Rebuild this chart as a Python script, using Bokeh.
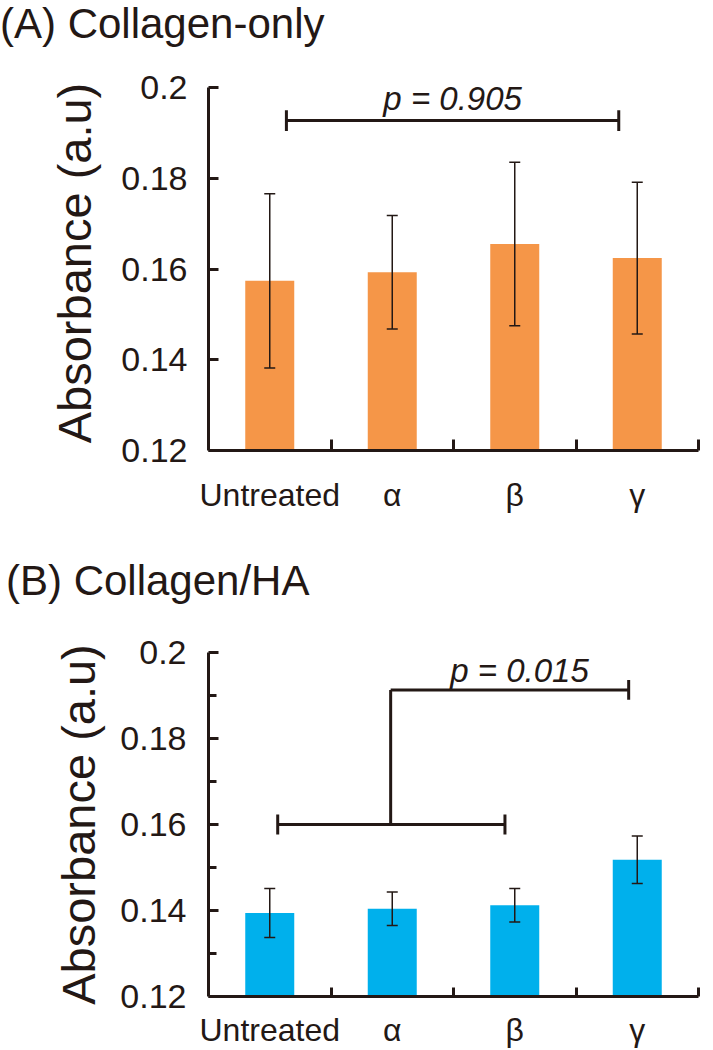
from bokeh.plotting import figure
from bokeh.models import (ColumnDataSource, Whisker, TeeHead, Range1d, FixedTicker,
                          Label, NumeralTickFormatter, Div)
from bokeh.layouts import column
from bokeh.embed import file_html
from bokeh.resources import INLINE

# ---------------- data ----------------
categories = ["Untreated", "α", "β", "γ"]
a_means = [0.1574, 0.1593, 0.1655, 0.1624]
a_errors = [0.0192, 0.0125, 0.0180, 0.0167]
b_means = [0.1394, 0.1404, 0.1412, 0.1518]
b_errors = [0.0057, 0.0039, 0.0039, 0.0055]
y_ticks = [0.12, 0.14, 0.16, 0.18, 0.2]
b_minor_ticks = [0.13, 0.15, 0.17, 0.19]
a_title = "(A) Collagen-only"
b_title = "(B) Collagen/HA"
y_label = "Absorbance (a.u)"
a_p_text = "p = 0.905"
b_p_text = "p = 0.015"

FONT = "Liberation Sans"
INK = "#231815"
ORANGE = "#F59648"
BLUE = "#00B0EC"
Y_MIN, Y_MAX = 0.12, 0.2


def make_panel(means, errors, color, height, borders, y_top, minor_y, x_standoff,
               y_standoff, ylab_standoff, xtick_len):
    left, right, top, bottom = borders
    p = figure(width=713, height=height, output_backend="svg", toolbar_location=None,
               x_range=Range1d(-0.5, len(categories) - 0.5), y_range=Range1d(Y_MIN, y_top),
               min_border_left=left, min_border_right=right,
               min_border_top=top, min_border_bottom=bottom)
    p.outline_line_color = None
    p.grid.visible = False
    p.background_fill_color = "white"
    p.border_fill_color = "white"

    idx = list(range(len(categories)))
    src = ColumnDataSource(dict(
        x=idx, top=means,
        upper=[m + e for m, e in zip(means, errors)],
        lower=[m - e for m, e in zip(means, errors)],
    ))
    p.vbar(x="x", top="top", bottom=Y_MIN, width=0.4, source=src,
           fill_color=color, line_color=None)
    w = Whisker(base="x", upper="upper", lower="lower", source=src,
                line_color=INK, line_width=1.5, level="overlay",
                upper_head=TeeHead(size=11, line_color=INK, line_width=1.5),
                lower_head=TeeHead(size=11, line_color=INK, line_width=1.5))
    p.add_layout(w)

    # x axis
    xa = p.xaxis[0]
    xa.ticker = FixedTicker(ticks=idx, minor_ticks=[i + 0.5 for i in idx])
    xa.major_label_overrides = {i: c for i, c in zip(idx, categories)}
    xa.major_tick_line_color = None
    xa.minor_tick_in = xtick_len
    xa.minor_tick_out = 0
    xa.minor_tick_line_width = 3
    xa.minor_tick_line_color = INK
    xa.axis_line_width = 3
    xa.axis_line_color = INK
    xa.major_label_text_font = FONT
    xa.major_label_text_font_size = "32px"
    xa.major_label_text_color = INK
    xa.major_label_standoff = x_standoff

    # y axis
    ya = p.yaxis[0]
    ya.bounds = (Y_MIN, Y_MAX)
    ya.ticker = FixedTicker(ticks=y_ticks, minor_ticks=minor_y)
    ya.formatter = NumeralTickFormatter(format="0.[00]")
    ya.major_tick_in = 10
    ya.major_tick_out = 0
    ya.minor_tick_in = 8 if minor_y else 0
    ya.minor_tick_out = 0
    ya.major_tick_line_width = 3
    ya.minor_tick_line_width = 3
    ya.major_tick_line_color = INK
    ya.minor_tick_line_color = INK
    ya.axis_line_width = 3
    ya.axis_line_color = INK
    ya.major_label_text_font = FONT
    ya.major_label_text_font_size = "34px"
    ya.major_label_text_color = INK
    ya.major_label_standoff = y_standoff
    ya.axis_label = y_label
    ya.axis_label_text_font = FONT
    ya.axis_label_text_font_size = "47px"
    ya.axis_label_text_font_style = "normal"
    ya.axis_label_text_color = INK
    ya.axis_label_standoff = ylab_standoff
    return p


def title_div(text, height, pad_top, pad_left):
    html = ('<div style="font-family: \'Liberation Sans\'; font-size: 42px; '
            'line-height: 47px; color: %s; white-space: nowrap; margin: 0; '
            'padding: %dpx 0 0 %dpx;">%s</div>' % (INK, pad_top, pad_left, text))
    return Div(text=html, width=713, height=height, margin=0)


# ---------------- panel A ----------------
div_a = title_div(a_title, 47, 0, 0)
a_scale = 363 / (Y_MAX - Y_MIN)
pa = make_panel(a_means, a_errors, ORANGE, 498, (208, 15, 28, 95),
                Y_MAX + 12 / a_scale, [], 20, 21, 17, 11)
a_y = 0.1927
a_x0, a_x1 = 0 + 0.136, 3 - 0.151
pa.segment(x0=[a_x0, a_x0, a_x1], y0=[a_y, a_y - 0.0023, a_y - 0.0023],
           x1=[a_x1, a_x0, a_x1], y1=[a_y, a_y + 0.0023, a_y + 0.0023],
           line_color=INK, line_width=3)
pa.add_layout(Label(x=1.493, y=0.1975, text=a_p_text, text_align="center",
                    text_baseline="alphabetic", text_font=FONT, text_font_size="33px",
                    text_font_style="italic", text_color=INK))

# ---------------- panel B ----------------
div_b = title_div(b_title, 65, 12, 6)
pb = make_panel(b_means, b_errors, BLUE, 440, (205, 5, 42, 52), Y_MAX,
                b_minor_ticks, 9, 22, 12, 9)
lo_y, hi_y = 0.16, 0.1913
lo_x0, lo_x1 = 0 + 0.065, 2 - 0.08
stem_x = 1 - 0.013
hi_x1 = 3 - 0.07
tk = 0.0023
pb.segment(x0=[lo_x0, lo_x0, lo_x1, stem_x, stem_x, hi_x1],
           y0=[lo_y, lo_y - tk, lo_y - tk, lo_y, hi_y, hi_y - tk],
           x1=[lo_x1, lo_x0, lo_x1, stem_x, hi_x1, hi_x1],
           y1=[lo_y, lo_y + tk, lo_y + tk, hi_y, hi_y, hi_y + tk],
           line_color=INK, line_width=3)
pb.add_layout(Label(x=2.039, y=0.1959, text=b_p_text, text_align="center",
                    text_baseline="alphabetic", text_font=FONT, text_font_size="33px",
                    text_font_style="italic", text_color=INK))

layout = column(div_a, pa, div_b, pb, spacing=0)
open("out.html", "w").write(file_html(layout, INLINE))
